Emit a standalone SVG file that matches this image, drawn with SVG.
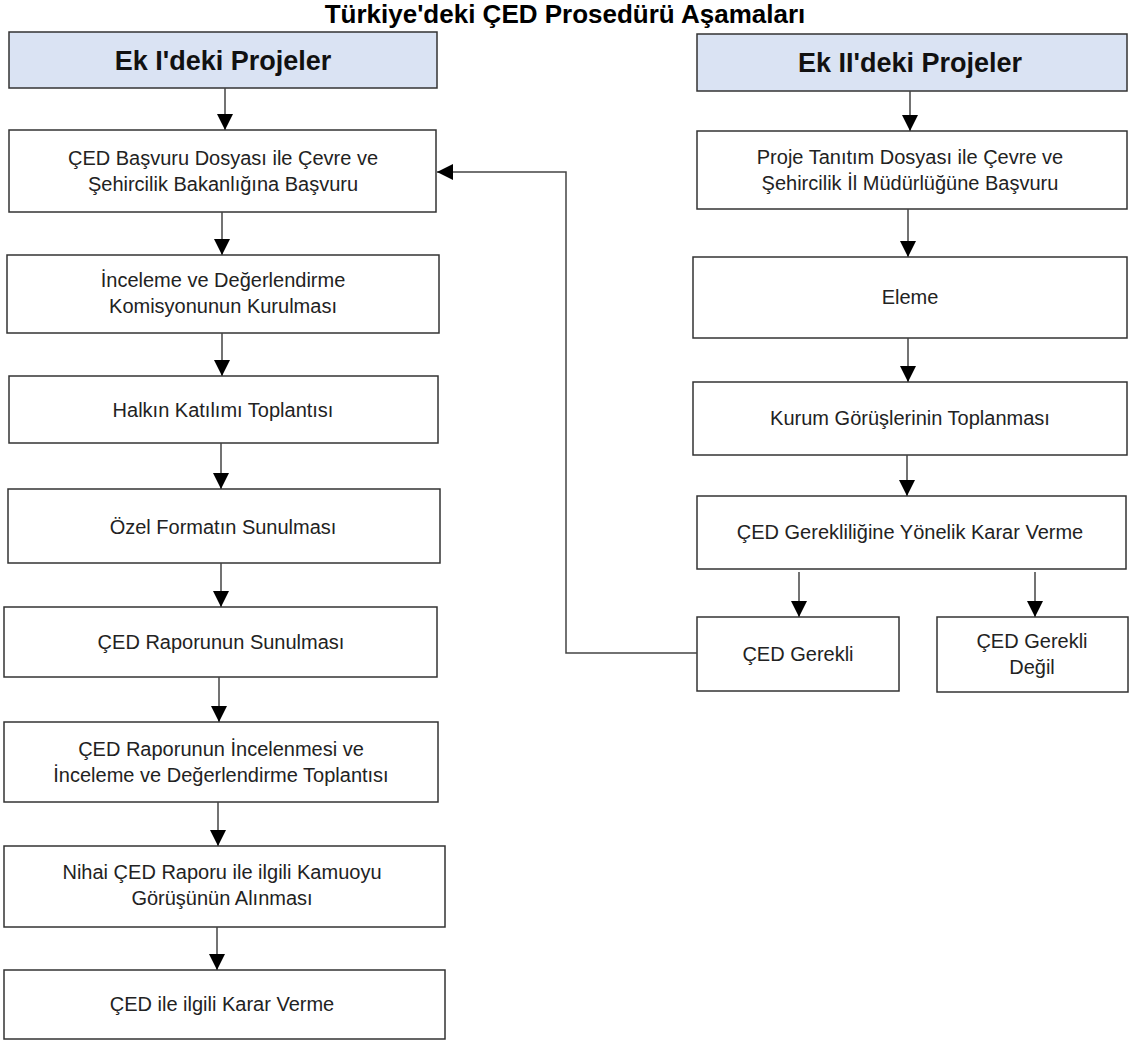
<svg xmlns="http://www.w3.org/2000/svg" width="1129" height="1041" viewBox="0 0 1129 1041">
<defs>
<style>
.box{fill:#fff;stroke:#333;stroke-width:1.5}
.hdr{fill:#dae3f3;stroke:#333;stroke-width:1.5}
.t{font-family:"Liberation Sans",Arial,sans-serif;font-size:20px;fill:#222;text-anchor:middle}
.h{font-family:"Liberation Sans",Arial,sans-serif;font-size:27px;font-weight:bold;fill:#111;text-anchor:middle}
.title{font-family:"Liberation Sans",Arial,sans-serif;font-size:26px;font-weight:bold;fill:#000;text-anchor:middle}
.c{fill:none;stroke:#444;stroke-width:1.5}
</style>
<marker id="ah" viewBox="0 0 10 10" refX="10" refY="5" markerWidth="16" markerHeight="16" markerUnits="userSpaceOnUse" orient="auto">
<path d="M0,0 L10,5 L0,10 z" fill="#000"/>
</marker>
</defs>
<rect width="1129" height="1041" fill="#fff"/>
<text class="title" x="565" y="23">Türkiye'deki ÇED Prosedürü Aşamaları</text>

<g id="hdr-left"><rect class="hdr" x="9" y="32" width="428" height="56"/><text class="h" x="223" y="70">Ek I'deki Projeler</text></g>
<g id="b1"><rect class="box" x="9" y="130" width="427" height="82"/><text class="t" x="223" y="165">ÇED Başvuru Dosyası ile Çevre ve</text><text class="t" x="223" y="191">Şehircilik Bakanlığına Başvuru</text></g>
<g id="b2"><rect class="box" x="7" y="255" width="432" height="78"/><text class="t" x="223" y="287">İnceleme ve Değerlendirme</text><text class="t" x="223" y="313">Komisyonunun Kurulması</text></g>
<g id="b3"><rect class="box" x="9" y="376" width="429" height="67"/><text class="t" x="223" y="417">Halkın Katılımı Toplantısı</text></g>
<g id="b4"><rect class="box" x="8" y="489" width="432" height="74"/><text class="t" x="223" y="534">Özel Formatın Sunulması</text></g>
<g id="b5"><rect class="box" x="4" y="607" width="433" height="70"/><text class="t" x="221" y="649">ÇED Raporunun Sunulması</text></g>
<g id="b6"><rect class="box" x="4" y="722" width="434" height="80"/><text class="t" x="221" y="756">ÇED Raporunun İncelenmesi ve</text><text class="t" x="221" y="782">İnceleme ve Değerlendirme Toplantısı</text></g>
<g id="b7"><rect class="box" x="4" y="846" width="441" height="81"/><text class="t" x="222" y="879">Nihai ÇED Raporu ile ilgili Kamuoyu</text><text class="t" x="222" y="905">Görüşünün Alınması</text></g>
<g id="b8"><rect class="box" x="4" y="970" width="441" height="69"/><text class="t" x="222" y="1011">ÇED ile ilgili Karar Verme</text></g>

<g id="hdr-right"><rect class="hdr" x="697" y="34" width="430" height="57"/><text class="h" x="910" y="72">Ek II'deki Projeler</text></g>
<g id="r1"><rect class="box" x="697" y="131" width="430" height="78"/><text class="t" x="910" y="164">Proje Tanıtım Dosyası ile Çevre ve</text><text class="t" x="910" y="190">Şehircilik İl Müdürlüğüne Başvuru</text></g>
<g id="r2"><rect class="box" x="693" y="257" width="434" height="81"/><text class="t" x="910" y="304">Eleme</text></g>
<g id="r3"><rect class="box" x="693" y="382" width="434" height="73"/><text class="t" x="910" y="425">Kurum Görüşlerinin Toplanması</text></g>
<g id="r4"><rect class="box" x="697" y="496" width="429" height="73"/><text class="t" x="910" y="539">ÇED Gerekliliğine Yönelik Karar Verme</text></g>
<g id="r5"><rect class="box" x="697" y="617" width="202" height="74"/><text class="t" x="798" y="661">ÇED Gerekli</text></g>
<g id="r6"><rect class="box" x="937" y="617" width="191" height="75"/><text class="t" x="1032" y="648">ÇED Gerekli</text><text class="t" x="1032" y="674">Değil</text></g>

<g id="connectors">
<line class="c" x1="225" y1="88" x2="225" y2="130" marker-end="url(#ah)"/>
<line class="c" x1="222" y1="212" x2="222" y2="255" marker-end="url(#ah)"/>
<line class="c" x1="222" y1="333" x2="222" y2="376" marker-end="url(#ah)"/>
<line class="c" x1="221" y1="443" x2="221" y2="489" marker-end="url(#ah)"/>
<line class="c" x1="221" y1="563" x2="221" y2="607" marker-end="url(#ah)"/>
<line class="c" x1="219" y1="677" x2="219" y2="722" marker-end="url(#ah)"/>
<line class="c" x1="218" y1="802" x2="218" y2="846" marker-end="url(#ah)"/>
<line class="c" x1="217" y1="927" x2="217" y2="970" marker-end="url(#ah)"/>
<line class="c" x1="910" y1="91" x2="910" y2="131" marker-end="url(#ah)"/>
<line class="c" x1="908" y1="209" x2="908" y2="257" marker-end="url(#ah)"/>
<line class="c" x1="908" y1="338" x2="908" y2="382" marker-end="url(#ah)"/>
<line class="c" x1="907" y1="455" x2="907" y2="496" marker-end="url(#ah)"/>
<line class="c" x1="799" y1="572" x2="799" y2="617" marker-end="url(#ah)"/>
<line class="c" x1="1035" y1="572" x2="1035" y2="617" marker-end="url(#ah)"/>
<polyline class="c" points="697,653 566,653 566,172 437,172" marker-end="url(#ah)"/>
</g>
</svg>
